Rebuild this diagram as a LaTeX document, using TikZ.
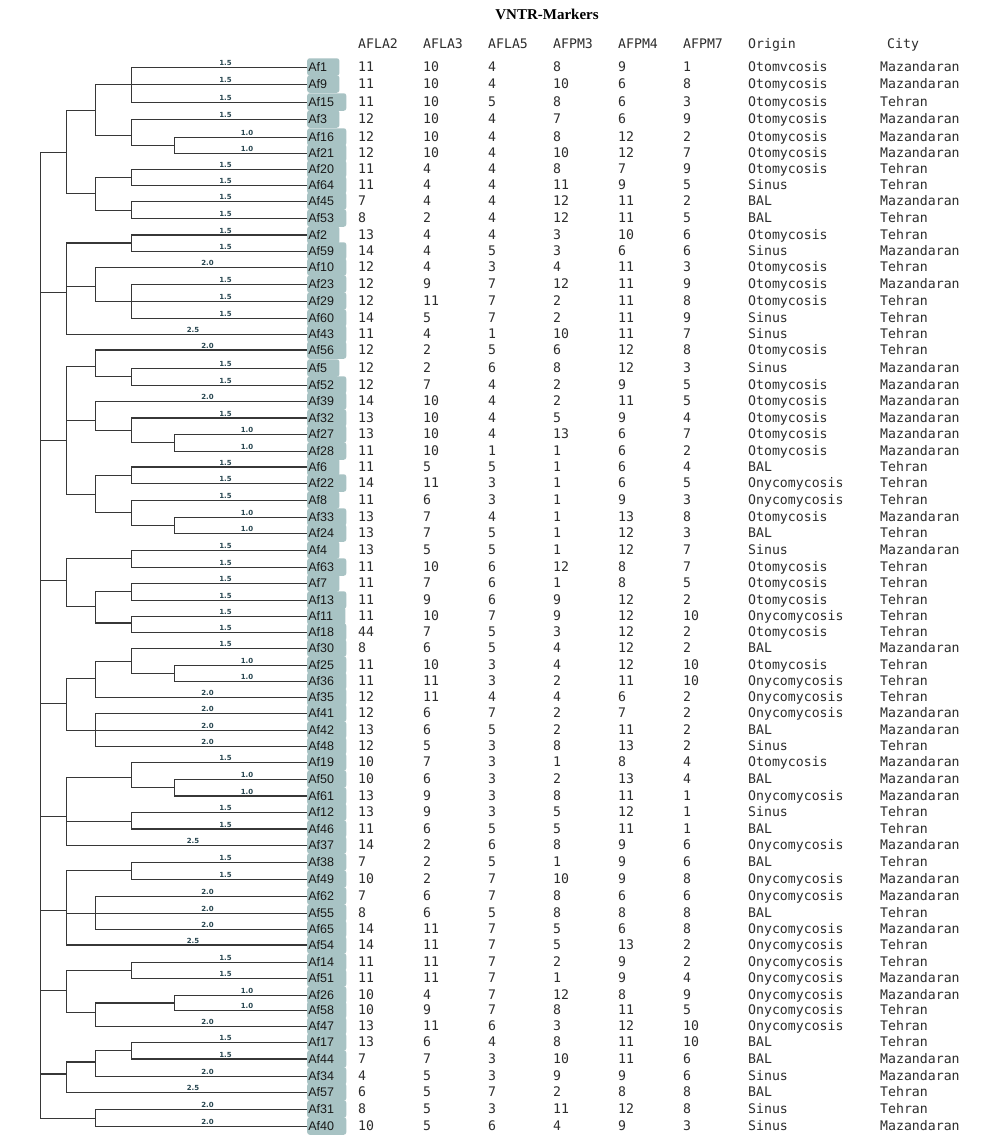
\documentclass[tikz,border=0pt]{standalone}
\usepackage{fontspec}
\setmainfont{Liberation Serif}
\newfontfamily\leaffnt{Liberation Sans}
\newfontfamily\tabfnt{DejaVu Sans Mono}
\newfontfamily\lblfnt{DejaVu Sans}
\definecolor{boxc}{RGB}{168,195,196}
\definecolor{linec}{RGB}{55,55,55}
\definecolor{labc}{RGB}{40,70,80}
\definecolor{tabc}{RGB}{45,45,45}
\begin{document}
\begin{tikzpicture}[x=1pt,y=-1pt,
  br/.style={draw=linec,line width=0.8pt},
  thk/.style={draw=linec,line width=1.7pt},
  vthk/.style={draw=linec,line width=2.7pt},
  leaf/.style={anchor=west,fill=boxc,rounded corners=2.5pt,minimum height=17.5pt,inner xsep=1.2pt,inner ysep=0pt,font=\leaffnt\fontsize{12.5}{13}\selectfont,text=black!90},
  blab/.style={pos=0.75,anchor=south,xshift=6.5pt,inner sep=0.6pt,font=\lblfnt\bfseries\fontsize{7}{8}\selectfont,text=labc},
  tcell/.style={anchor=base west,inner sep=0pt,font=\tabfnt\fontsize{13.2}{14}\selectfont,text=tabc},
  ttl/.style={font=\bfseries\fontsize{15}{16}\selectfont,text=black}]
\fill[white] (0,0) rectangle (1000,1143);
\useasboundingbox (0,0) rectangle (1000,1143);

\node[ttl] (title) at (547,14.5) {VNTR-Markers};
\foreach \h/\hx [count=\k] in {AFLA2/358,AFLA3/423,AFLA5/488,AFPM3/553,AFPM4/618,AFPM7/683,Origin/748,City/887}
  \node[tcell] (hd\k) at (\hx,48.6) {\h};

% leaves and table rows
\foreach \n/\y/\ca/\cb/\cc/\cd/\ce/\cf/\o/\t [count=\i] in {
Af1/67/11/10/4/8/9/1/Otomvcosis/Mazandaran,
Af9/84/11/10/4/10/6/8/Otomycosis/Mazandaran,
Af15/102/11/10/5/8/6/3/Otomycosis/Tehran,
Af3/119/12/10/4/7/6/9/Otomycosis/Mazandaran,
Af16/137/12/10/4/8/12/2/Otomycosis/Mazandaran,
Af21/153/12/10/4/10/12/7/Otomycosis/Mazandaran,
Af20/169/11/4/4/8/7/9/Otomycosis/Tehran,
Af64/185/11/4/4/11/9/5/Sinus/Tehran,
Af45/201/7/4/4/12/11/2/BAL/Mazandaran,
Af53/218/8/2/4/12/11/5/BAL/Tehran,
Af2/235/13/4/4/3/10/6/Otomycosis/Tehran,
Af59/251/14/4/5/3/6/6/Sinus/Mazandaran,
Af10/267/12/4/3/4/11/3/Otomycosis/Tehran,
Af23/284/12/9/7/12/11/9/Otomycosis/Mazandaran,
Af29/301/12/11/7/2/11/8/Otomycosis/Tehran,
Af60/318/14/5/7/2/11/9/Sinus/Tehran,
Af43/334/11/4/1/10/11/7/Sinus/Tehran,
Af56/350/12/2/5/6/12/8/Otomycosis/Tehran,
Af5/368/12/2/6/8/12/3/Sinus/Mazandaran,
Af52/385/12/7/4/2/9/5/Otomycosis/Mazandaran,
Af39/401/14/10/4/2/11/5/Otomycosis/Mazandaran,
Af32/418/13/10/4/5/9/4/Otomycosis/Mazandaran,
Af27/434/13/10/4/13/6/7/Otomycosis/Mazandaran,
Af28/451/11/10/1/1/6/2/Otomycosis/Mazandaran,
Af6/467/11/5/5/1/6/4/BAL/Tehran,
Af22/483/14/11/3/1/6/5/Onycomycosis/Tehran,
Af8/500/11/6/3/1/9/3/Onycomycosis/Tehran,
Af33/517/13/7/4/1/13/8/Otomycosis/Mazandaran,
Af24/533/13/7/5/1/12/3/BAL/Tehran,
Af4/550/13/5/5/1/12/7/Sinus/Mazandaran,
Af63/567/11/10/6/12/8/7/Otomycosis/Tehran,
Af7/583/11/7/6/1/8/5/Otomycosis/Tehran,
Af13/600/11/9/6/9/12/2/Otomycosis/Tehran,
Af11/616/11/10/7/9/12/10/Onycomycosis/Tehran,
Af18/632/44/7/5/3/12/2/Otomycosis/Tehran,
Af30/648/8/6/5/4/12/2/BAL/Mazandaran,
Af25/665/11/10/3/4/12/10/Otomycosis/Tehran,
Af36/681/11/11/3/2/11/10/Onycomycosis/Tehran,
Af35/697/12/11/4/4/6/2/Onycomycosis/Tehran,
Af41/713/12/6/7/2/7/2/Onycomycosis/Mazandaran,
Af42/730/13/6/5/2/11/2/BAL/Mazandaran,
Af48/746/12/5/3/8/13/2/Sinus/Tehran,
Af19/762/10/7/3/1/8/4/Otomycosis/Mazandaran,
Af50/779/10/6/3/2/13/4/BAL/Mazandaran,
Af61/796/13/9/3/8/11/1/Onycomycosis/Mazandaran,
Af12/812/13/9/3/5/12/1/Sinus/Tehran,
Af46/829/11/6/5/5/11/1/BAL/Tehran,
Af37/845/14/2/6/8/9/6/Onycomycosis/Mazandaran,
Af38/862/7/2/5/1/9/6/BAL/Tehran,
Af49/879/10/2/7/10/9/8/Onycomycosis/Mazandaran,
Af62/896/7/6/7/8/6/6/Onycomycosis/Mazandaran,
Af55/913/8/6/5/8/8/8/BAL/Tehran,
Af65/929/14/11/7/5/6/8/Onycomycosis/Mazandaran,
Af54/945/14/11/7/5/13/2/Onycomycosis/Tehran,
Af14/962/11/11/7/2/9/2/Onycomycosis/Tehran,
Af51/978/11/11/7/1/9/4/Onycomycosis/Mazandaran,
Af26/995/10/4/7/12/8/9/Onycomycosis/Mazandaran,
Af58/1010/10/9/7/8/11/5/Onycomycosis/Tehran,
Af47/1026/13/11/6/3/12/10/Onycomycosis/Tehran,
Af17/1042/13/6/4/8/11/10/BAL/Tehran,
Af44/1059/7/7/3/10/11/6/BAL/Mazandaran,
Af34/1076/4/5/3/9/9/6/Sinus/Mazandaran,
Af57/1092/6/5/7/2/8/8/BAL/Tehran,
Af31/1109/8/5/3/11/12/8/Sinus/Tehran,
Af40/1126/10/5/6/4/9/3/Sinus/Mazandaran}{
  \node[leaf] (\n) at (307,\y) {\n\hspace*{11pt}};
  \node[tcell] (r\i-1) at (358,\y+4.6) {\ca};
  \node[tcell] (r\i-2) at (423,\y+4.6) {\cb};
  \node[tcell] (r\i-3) at (488,\y+4.6) {\cc};
  \node[tcell] (r\i-4) at (553,\y+4.6) {\cd};
  \node[tcell] (r\i-5) at (618,\y+4.6) {\ce};
  \node[tcell] (r\i-6) at (683,\y+4.6) {\cf};
  \node[tcell] (r\i-7) at (748,\y+4.6) {\o};
  \node[tcell] (r\i-8) at (880,\y+4.6) {\t};
}

% internal nodes
\coordinate (root) at (40,152);
\coordinate (A) at (66,152);  \coordinate (a4) at (95,110); \coordinate (a1) at (131,84);
\coordinate (a3) at (131,135); \coordinate (a2) at (174,145); \coordinate (a7) at (95,193);
\coordinate (a5) at (131,177); \coordinate (a6) at (131,210);
\coordinate (B) at (66,292); \coordinate (b1) at (131,243); \coordinate (b3) at (95,286); \coordinate (b2) at (131,301);
\coordinate (C) at (66,440); \coordinate (c2) at (95,366); \coordinate (c1) at (131,376);
\coordinate (c5) at (95,420); \coordinate (c4) at (131,430); \coordinate (c3) at (174,442);
\coordinate (c9) at (95,494); \coordinate (c6) at (131,475); \coordinate (c8) at (131,512); \coordinate (c7) at (174,525);
\coordinate (D) at (66,580); \coordinate (d1) at (131,558); \coordinate (d4) at (95,606);
\coordinate (d2) at (131,591); \coordinate (d3) at (131,623);
\coordinate (E) at (66,703); \coordinate (e3) at (95,678); \coordinate (e2) at (131,661);
\coordinate (e1) at (174,673); \coordinate (e4) at (95,730);
\coordinate (F) at (66,816); \coordinate (f2) at (131,777); \coordinate (f1) at (174,787); \coordinate (f3) at (131,821);
\coordinate (G) at (66,910); \coordinate (g1) at (131,870); \coordinate (g2) at (95,913);
\coordinate (H) at (66,990); \coordinate (h1) at (131,970); \coordinate (h3) at (95,1012); \coordinate (h2) at (174,1003);
\coordinate (I) at (66,1074); \coordinate (i2) at (95,1062); \coordinate (i1) at (131,1050);
\coordinate (J) at (95,1118);

\foreach \p/\c in {root/A,root/B,root/C,root/D,root/E,root/F,root/G,root/H,root/I,root/J,
  A/a4,A/a7,a4/a1,a4/a3,a3/a2,a7/a5,a7/a6,
  B/b1,B/b3,b3/b2,
  C/c2,C/c5,C/c9,c2/c1,c5/c4,c4/c3,c9/c6,c9/c8,c8/c7,
  D/d1,D/d4,d4/d2,d4/d3,
  E/e3,E/e4,e3/e2,e2/e1,
  F/f2,F/f3,f2/f1,
  G/g1,G/g2,
  H/h1,H/h3,h3/h2,
  I/i2,i2/i1}
  \draw[br] (\p) |- (\c);

\foreach \p/\l/\v in {a1/Af1/1.5,a1/Af9/1.5,a1/Af15/1.5,a3/Af3/1.5,a2/Af16/1.0,a2/Af21/1.0,
  a5/Af20/1.5,a5/Af64/1.5,a6/Af45/1.5,a6/Af53/1.5,
  b1/Af2/1.5,b1/Af59/1.5,b3/Af10/2.0,b2/Af23/1.5,b2/Af29/1.5,b2/Af60/1.5,B/Af43/2.5,
  c2/Af56/2.0,c1/Af5/1.5,c1/Af52/1.5,c5/Af39/2.0,c4/Af32/1.5,c3/Af27/1.0,c3/Af28/1.0,
  c6/Af6/1.5,c6/Af22/1.5,c8/Af8/1.5,c7/Af33/1.0,c7/Af24/1.0,
  d1/Af4/1.5,d1/Af63/1.5,d2/Af7/1.5,d2/Af13/1.5,d3/Af11/1.5,d3/Af18/1.5,
  e2/Af30/1.5,e1/Af25/1.0,e1/Af36/1.0,e3/Af35/2.0,e4/Af41/2.0,e4/Af42/2.0,e4/Af48/2.0,
  f2/Af19/1.5,f1/Af50/1.0,f1/Af61/1.0,f3/Af12/1.5,f3/Af46/1.5,F/Af37/2.5,
  g1/Af38/1.5,g1/Af49/1.5,g2/Af62/2.0,g2/Af55/2.0,g2/Af65/2.0,G/Af54/2.5,
  h1/Af14/1.5,h1/Af51/1.5,h2/Af26/1.0,h2/Af58/1.0,h3/Af47/2.0,
  i1/Af17/1.5,i1/Af44/1.5,i2/Af34/2.0,I/Af57/2.5,
  J/Af31/2.0,J/Af40/2.0}
  \draw[br] (\p) |- (\l.west) node[blab] {\v};

% heavier strokes as in the reference
\draw[thk] (B |- b1) -- (b1);
\draw[thk] (b1 |- Af2.west) -- (Af2.west);
\draw[thk] (c2 |- Af56.west) -- (Af56.west);
\draw[thk] (c4 |- Af32.west) -- (Af32.west);
\draw[thk] (c6 |- Af6.west) -- (Af6.west);
\draw[thk] (d4 |- d3) -- (d3);
\draw[thk] (f1 |- Af61.west) -- (Af61.west);
\draw[vthk] (f3 |- Af46.west) -- (Af46.west);
\draw[thk] (G |- Af54.west) -- (Af54.west);
\draw[vthk] (h3 |- h2) -- (h2);
\draw[thk] (i1 |- Af44.west) -- (Af44.west);
\draw[thk] (I |- i2) -- (i2);
\draw[thk] (root |- I) -- (I);
\end{tikzpicture}
\end{document}
